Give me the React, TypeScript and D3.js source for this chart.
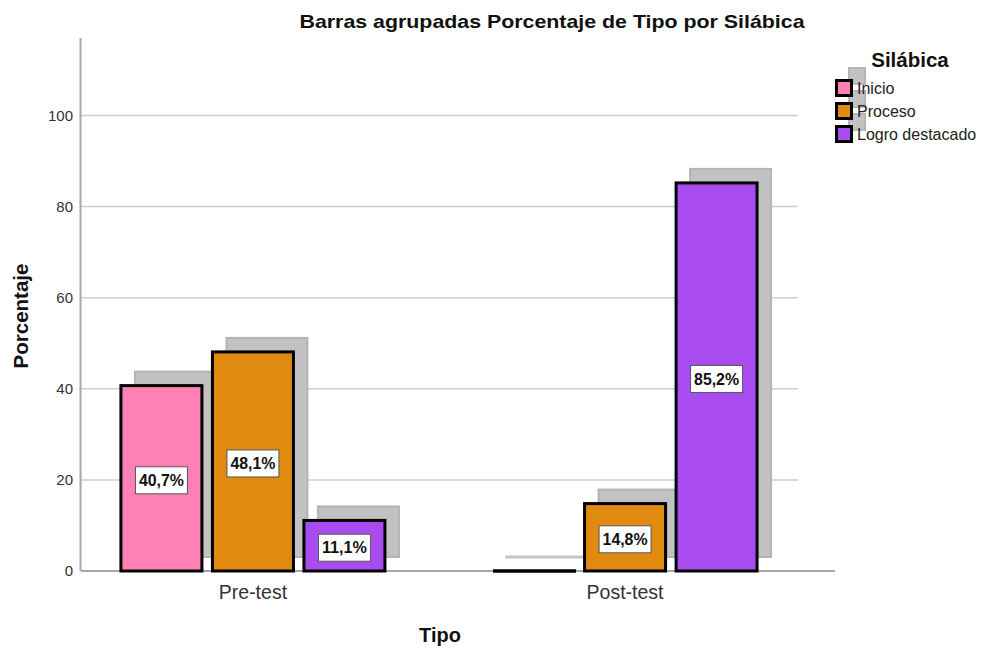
import React from "react";
import * as d3 from "d3";

const categories = ["Pre-test", "Post-test"];
const series = ["Inicio", "Proceso", "Logro destacado"];
const colors = ["#ff80b4", "#e08b10", "#a84cf0"];
const valuesPre = [40.7, 48.1, 11.1];
const valuesPost = [0, 14.8, 85.2];
const yTicks = [0, 20, 40, 60, 80, 100];

const W = 988;
const H = 649;
const FONT = "'Liberation Sans', Arial, sans-serif";

export default function App() {
  const values = [valuesPre, valuesPost];
  const y = d3.scaleLinear().domain([0, 100]).range([571, 115.5]);
  const yTopVal = y.invert(38);
  const x0 = d3.scalePoint<string>().domain(categories).range([81, 797]).padding(0.462);
  const barStep = 91.5;
  const barW = 81;
  const sh = 14;
  const innerX = (i: number) => (i - 1) * barStep; // center offset

  return (
    <svg width={W} height={H} style={{ display: "block", position: "absolute", left: 0, top: 0, background: "#fff" }} fontFamily={FONT}>
      <rect x={0} y={0} width={W} height={H} fill="#fff" />
      {/* gridlines */}
      {yTicks.filter(t => t > 0).map(t => (
        <line key={t} x1={81} x2={798} y1={y(t)} y2={y(t)} stroke="#cfcfcf" strokeWidth={1.5} />
      ))}
      {/* y axis */}
      <line x1={80.5} x2={80.5} y1={y(yTopVal)} y2={y(0)} stroke="#a8a8a8" strokeWidth={2} />
      {yTicks.map(t => (
        <text key={t} x={73} y={y(t)} dy="0.36em" textAnchor="end" fontSize={15} fill="#333">{t}</text>
      ))}
      {/* shadows */}
      {categories.map((c, ci) => values[ci].map((v, si) => {
        const cx = (x0(c) as number) + innerX(si);
        const top = y(v);
        if (v === 0) {
          return <line key={`s${ci}${si}`} x1={cx - barW / 2 + sh - 2} x2={cx + barW / 2 + sh} y1={y(0) - sh} y2={y(0) - sh} stroke="#c4c4c4" strokeWidth={3} />;
        }
        return <rect key={`s${ci}${si}`} x={cx - barW / 2 + sh} y={top - sh} width={barW} height={y(0) - top} fill="#c2c2c2" stroke="#b4b4b4" strokeWidth={2} />;
      }))}
      {/* baseline */}
      <line x1={81} x2={835} y1={y(0)} y2={y(0)} stroke="#8a8a8a" strokeWidth={1.5} />
      {/* bars */}
      {categories.map((c, ci) => values[ci].map((v, si) => {
        const cx = (x0(c) as number) + innerX(si);
        const top = y(v);
        if (v === 0) {
          return <line key={`b${ci}${si}`} x1={cx - barW / 2} x2={cx + barW / 2 + 2} y1={y(0)} y2={y(0)} stroke="#000" strokeWidth={3.5} />;
        }
        return <rect key={`b${ci}${si}`} x={cx - barW / 2} y={top} width={barW} height={y(0) - top} fill={colors[si]} stroke="#000" strokeWidth={3} />;
      }))}
      {/* labels */}
      {categories.map((c, ci) => values[ci].map((v, si) => {
        if (v === 0) return null;
        const cx = (x0(c) as number) + innerX(si);
        const cy = (y(v) + y(0)) / 2 + 2;
        const label = d3.format(".1f")(v).replace(".", ",") + "%";
        return (
          <g key={`l${ci}${si}`}>
            <rect x={cx - 26} y={cy - 13.5} width={52} height={27} fill="#fff" stroke="#555" strokeWidth={1} />
            <text x={cx} y={cy} dy="0.36em" textAnchor="middle" fontSize={16} fontWeight="bold" fill="#111" textLength={45} lengthAdjust="spacingAndGlyphs">{label}</text>
          </g>
        );
      }))}
      {/* x tick labels */}
      {categories.map(c => (
        <text key={c} x={x0(c) as number} y={599} textAnchor="middle" fontSize={19.5} fill="#333">{c}</text>
      ))}
      {/* axis titles */}
      <text x={440} y={642} textAnchor="middle" fontSize={20} fontWeight="bold" fill="#111">Tipo</text>
      <text transform="translate(28,316) rotate(-90)" textAnchor="middle" fontSize={20.5} fontWeight="bold" fill="#111">Porcentaje</text>
      <text x={552} y={28} textAnchor="middle" fontSize={19} fontWeight="bold" fill="#111" textLength={505} lengthAdjust="spacingAndGlyphs">Barras agrupadas Porcentaje de Tipo por Silábica</text>
      {/* legend */}
      <text x={910} y={67} textAnchor="middle" fontSize={20.5} fontWeight="bold" fill="#111">Silábica</text>
      {series.map((s, i) => (
        <rect key={`ls${i}`} x={836 + 13} y={80 + i * 23 - 12} width={16} height={16} fill="#c2c2c2" stroke="#b4b4b4" strokeWidth={2} />
      ))}
      {series.map((s, i) => (
        <g key={`l${i}`}>
          <rect x={836.5} y={80.5 + i * 23} width={15} height={15} fill={colors[i]} stroke="#000" strokeWidth={3} />
          <text x={857} y={88 + i * 23} dy="0.36em" fontSize={16} fill="#222">{s}</text>
        </g>
      ))}
    </svg>
  );
}
